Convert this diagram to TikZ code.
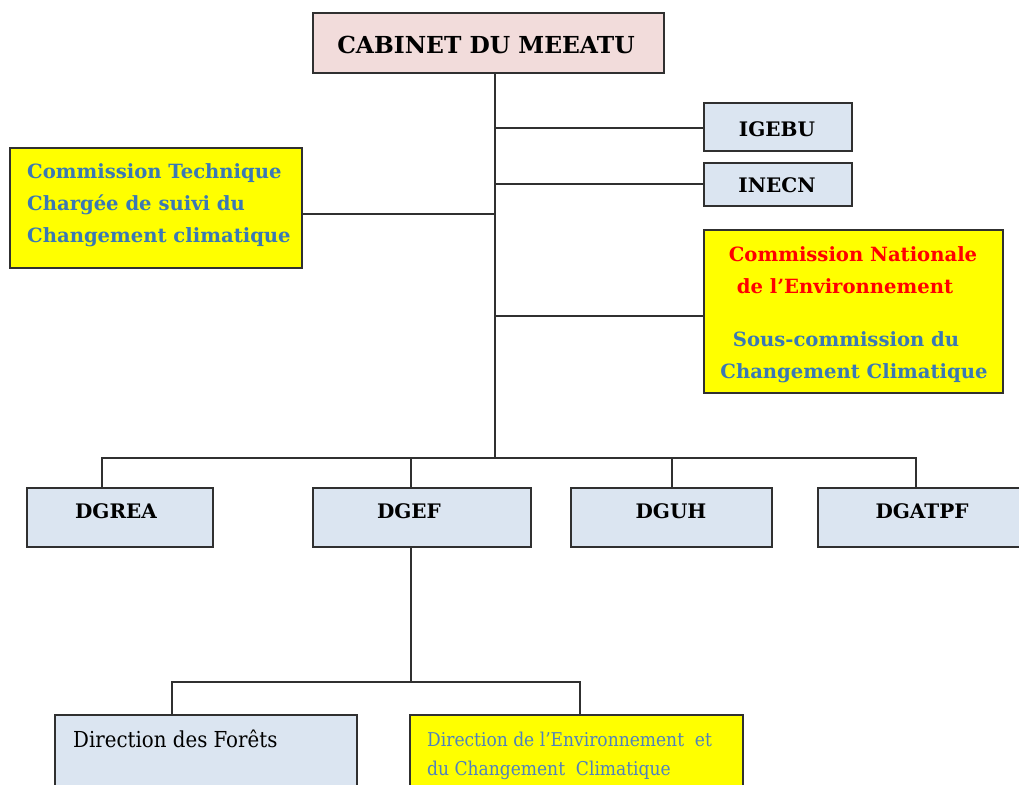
\documentclass[tikz,border=0pt]{standalone}
\usepackage{fontspec}
\setmainfont{DejaVu Serif}
\newfontfamily\condfont{DejaVu Serif Condensed}
\definecolor{pinkfill}{HTML}{F2DCDB}
\definecolor{bluefill}{HTML}{DBE5F1}
\definecolor{yell}{HTML}{FFFF00}
\definecolor{bluetxt}{HTML}{3A78B5}
\definecolor{lightbluetxt}{HTML}{4F81BD}
\definecolor{linegray}{HTML}{303030}
\begin{document}
\begin{tikzpicture}[x=1pt,y=-1pt,
  box/.style={draw=linegray,line width=1.3pt,inner sep=0pt,outer sep=0pt},
  conn/.style={draw=linegray,line width=1.1pt},
  lbl/.style={inner sep=0pt,anchor=base,font=\bfseries\fontsize{20}{24}\selectfont},
  mixed/.style={lbl,font=\bfseries\fontsize{19.6}{24}\selectfont}]
\useasboundingbox (0,0) rectangle (1019,784);
\begin{scope}
\clip (0,0) rectangle (1019,784);
% boxes
\path[box,fill=pinkfill] (313,13) rectangle (664,73);
\coordinate (cab) at (495,73);
\path[box,fill=bluefill] (704,103) rectangle (852,151);
\path[box,fill=bluefill] (704,163) rectangle (852,206);
\path[box,fill=yell] (10,148) rectangle (302,268);
\path[box,fill=yell] (704,230) rectangle (1003,393);
\path[box,fill=bluefill] (27,488) rectangle (213,547);
\path[box,fill=bluefill] (313,488) rectangle (531,547);
\path[box,fill=bluefill] (571,488) rectangle (772,547);
\path[box,fill=bluefill] (818,488) rectangle (1030,547);
\path[box,fill=bluefill] (55,715) rectangle (357,800);
\path[box,fill=yell] (410,715) rectangle (743,800);
% named anchor coordinates
\coordinate (igebu) at (704,128);
\coordinate (inecn) at (704,184);
\coordinate (ctc) at (302,214);
\coordinate (cne) at (704,316);
\coordinate (bus) at (495,458);
\coordinate (dgrea) at (102,488);
\coordinate (dgef) at (411,488);
\coordinate (dguh) at (672,488);
\coordinate (dgatpf) at (916,488);
\coordinate (dgefb) at (411,547);
\coordinate (bus2) at (411,682);
\coordinate (df) at (172,715);
\coordinate (dec) at (580,715);
% connectors
\draw[conn] (cab) -- (bus);
\draw[conn] (igebu) -- (igebu -| cab);
\draw[conn] (inecn) -- (inecn -| cab);
\draw[conn] (ctc) -- (ctc -| cab);
\draw[conn] (cne) -- (cne -| cab);
\draw[conn] (dgrea) -- (dgrea |- bus) -- (dgatpf |- bus) -- (dgatpf);
\draw[conn] (dgef) -- (dgef |- bus);
\draw[conn] (dguh) -- (dguh |- bus);
\draw[conn] (dgefb) -- (bus2);
\draw[conn] (df) -- (df |- bus2) -- (dec |- bus2) -- (dec);
\end{scope}
% texts
\node[lbl,font=\bfseries\fontsize{23.4}{28}\selectfont] (tcab) at (486,53) {CABINET DU MEEATU};
\node[lbl] (tigebu) at (777,136) {IGEBU};
\node[lbl] (tinecn) at (777,192) {INECN};
\node[lbl] (tdgrea) at (116,518) {DGREA};
\node[lbl] (tdgef) at (409,518) {DGEF};
\node[lbl] (tdguh) at (671,518) {DGUH};
\node[lbl] (tdgatpf) at (922,518) {DGATPF};
\begin{scope}[every node/.style={mixed,anchor=base west,text=bluetxt}]
\node (t1) at (27,178) {Commission Technique};
\node (t2) at (27,210) {Chargée de suivi du};
\node (t3) at (27,242) {Changement climatique};
\end{scope}
\begin{scope}[every node/.style={mixed}]
\node[text=red] (c1) at (853,261) {Commission Nationale};
\node[text=red] (c2) at (845,293) {de l’Environnement};
\node[text=bluetxt] (c3) at (846,346) {Sous-commission du};
\node[text=bluetxt] (c4) at (854,378) {Changement Climatique};
\end{scope}
\node[lbl,anchor=base west,font=\condfont\fontsize{22}{26}\selectfont] (tdf) at (73,747) {Direction des Forêts};
\node[lbl,anchor=base west,text=lightbluetxt,font=\condfont\fontsize{19}{23}\selectfont] (tde1) at (427,746) {Direction de l’Environnement\ \ et};
\node[lbl,anchor=base west,text=lightbluetxt,font=\condfont\fontsize{19}{23}\selectfont] (tde2) at (427,775) {du Changement\ \ Climatique};
\end{tikzpicture}
\end{document}
